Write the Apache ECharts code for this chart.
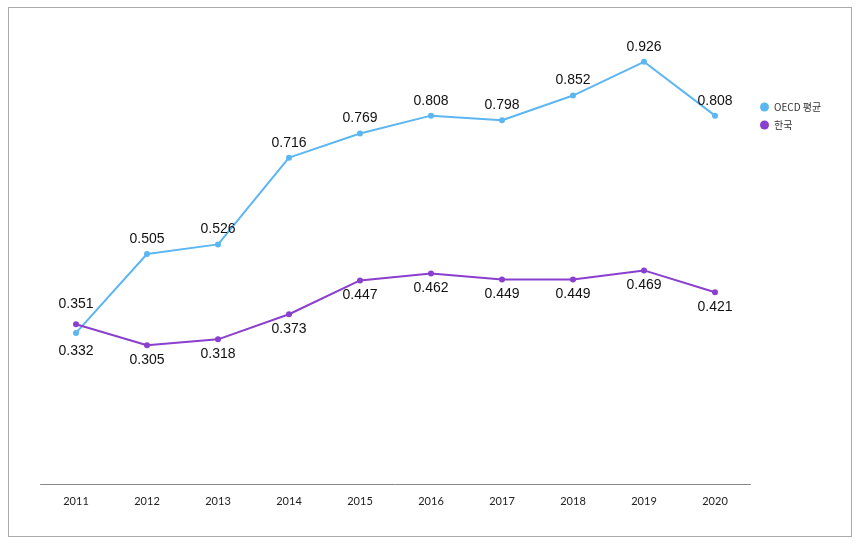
<!DOCTYPE html>
<html><head><meta charset="utf-8">
<script src="https://cdn.jsdelivr.net/npm/echarts@6/dist/echarts.min.js"></script>
<style>html,body{margin:0;padding:0;background:#fff}#c{width:863px;height:547px}
#frame{position:absolute;left:8px;top:7px;width:842px;height:528px;border:1.5px solid #aaa;pointer-events:none}</style>
</head><body><div id="c"></div><div id="frame"></div>
<script>
const years = ['2011','2012','2013','2014','2015','2016','2017','2018','2019','2020'];
const oecd = [0.332,0.505,0.526,0.716,0.769,0.808,0.798,0.852,0.926,0.808];
const korea = [0.351,0.305,0.318,0.373,0.447,0.462,0.449,0.449,0.469,0.421];
const names = ['OECD 평균','한국'];
const chart = echarts.init(document.getElementById('c'));
const lbl = (pos) => ({show:true, position:pos, distance:5, color:'#111', fontSize:14, fontFamily:'Liberation Sans, Arial, sans-serif', formatter:p=>p.value.toFixed(3)});
chart.setOption({
  animation:false,
  grid:{left:40.5,right:112.5,top:28,bottom:62.5},
  legend:{orient:'vertical',left:755,top:97,itemWidth:9,itemHeight:9,itemGap:8,icon:'circle',
    textStyle:{fontSize:10,color:'#333',fontFamily:'Noto Sans CJK KR, sans-serif'},data:names},
  xAxis:{type:'category',data:years,boundaryGap:true,
    axisLine:{lineStyle:{color:'#888',width:1}},
    axisTick:{alignWithLabel:true,inside:true,length:3,lineStyle:{color:'#aaa'}},
    axisLabel:{color:'#222',fontSize:11,margin:11,fontFamily:'Lato, sans-serif'}},
  yAxis:{type:'value',min:0,max:1,show:false,splitLine:{show:false}},
  series:[
    {name:names[0],type:'line',data:oecd.map((v,i)=>({value:v,label:i===0?{position:'bottom',distance:8}:{}})),
     color:'#5cb6f2',lineStyle:{width:2},symbol:'circle',symbolSize:6,label:lbl('top')},
    {name:names[1],type:'line',data:korea.map((v,i)=>({value:v,label:i===0?{position:'top',distance:10}:{}})),
     color:'#8a3fce',lineStyle:{width:2},symbol:'circle',symbolSize:6,label:lbl('bottom')}
  ]
});
</script></body></html>
